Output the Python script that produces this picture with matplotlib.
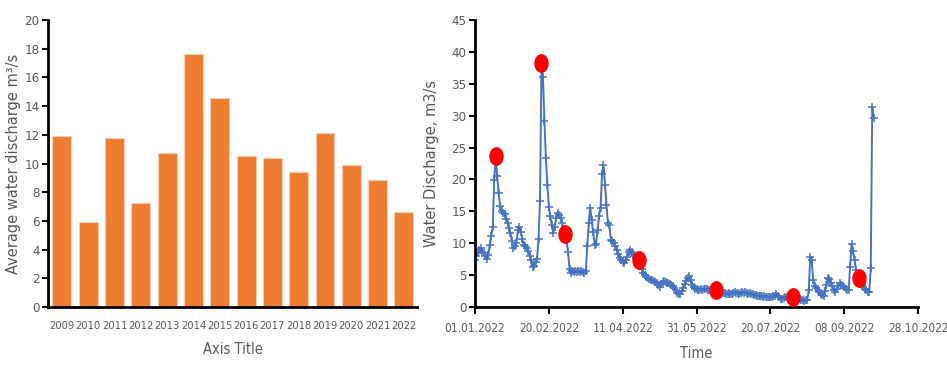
import datetime as dt

import numpy as np
import matplotlib
matplotlib.use("Agg")
import matplotlib.pyplot as plt
from matplotlib import font_manager
from matplotlib.path import Path
from matplotlib.transforms import Affine2D

# ---------------------------------------------------------------------------
# Data
# ---------------------------------------------------------------------------

years = ["2009", "2010", "2011", "2012", "2013", "2014", "2015",
         "2016", "2017", "2018", "2019", "2020", "2021", "2022"]
avg_discharge = [11.9, 5.95, 11.75, 7.25, 10.7, 17.6, 14.55,
                 10.55, 10.35, 9.4, 12.1, 9.9, 8.85, 6.6]

start_date = dt.date(2022, 1, 1)
# daily discharge from 01.01.2022 onward (m3/s)
daily_flow = [
    7.4, 8.0, 8.4, 8.9, 9.2, 8.7, 8.5, 8.0, 7.6, 8.2,
    9.8, 11.1, 12.6, 19.9, 23.6, 20.5, 17.8, 15.8, 15.0, 14.7,
    14.6, 13.8, 13.1, 12.4, 11.6, 10.3, 9.3, 9.6, 10.0, 12.1,
    12.6, 11.8, 10.6, 9.8, 9.5, 9.2, 8.8, 8.0, 7.3, 6.2,
    6.5, 7.0, 7.5, 10.7, 16.6, 37.5, 36.0, 29.2, 23.3, 19.2,
    15.7, 14.2, 12.8, 11.6, 12.5, 14.0, 14.8, 14.5, 13.9, 13.1,
    12.3, 11.5, 10.4, 8.7, 6.0, 5.3, 5.6, 5.5, 5.6, 5.5,
    5.6, 5.5, 5.6, 5.5, 5.3, 5.6, 9.5, 13.2, 15.6, 13.6,
    11.8, 9.7, 9.9, 12.1, 14.3, 15.6, 20.8, 22.3, 19.2, 16.0,
    13.1, 12.8, 10.5, 10.3, 10.0, 9.6, 8.9, 8.3, 7.7, 7.3,
    7.0, 6.9, 7.3, 7.9, 8.6, 8.9, 8.7, 8.3, 8.0, 7.7,
    7.4, 7.2, 6.5, 5.9, 5.4, 5.0, 4.7, 4.5, 4.4, 4.3,
    4.2, 4.1, 3.9, 3.8, 3.5, 3.2, 3.6, 3.9, 4.0, 3.9,
    3.8, 3.7, 3.6, 3.5, 3.3, 3.0, 2.6, 2.2, 2.0, 2.1,
    2.5, 3.0, 3.6, 4.1, 4.5, 4.9, 4.2, 3.5, 3.1, 2.9,
    2.8, 2.7, 2.7, 2.8, 2.7, 2.8, 2.9, 2.8, 2.7, 2.6,
    2.7, 2.6, 2.6, 2.5, 2.5, 2.4, 2.3, 2.3, 2.2, 2.2,
    2.1, 2.1, 2.2, 2.1, 2.0, 2.2, 2.3, 2.2, 2.2, 2.1,
    2.2, 2.3, 2.2, 2.3, 2.2, 2.1, 2.2, 2.1, 2.0, 1.9,
    1.9, 1.8, 1.8, 1.7, 1.7, 1.6, 1.7, 1.6, 1.6, 1.5,
    1.5, 1.6, 1.7, 1.8, 2.1, 1.8, 1.5, 1.3, 1.2, 1.4,
    1.6, 1.5, 1.3, 1.2, 1.2, 1.3, 1.2, 1.1, 1.2, 1.1,
    1.2, 1.1, 1.1, 1.0, 1.1, 1.1, 2.7, 7.9, 7.3, 4.3,
    3.3, 3.0, 2.7, 2.4, 2.1, 1.9, 1.7, 2.5, 3.5, 4.6,
    4.4, 3.8, 3.3, 2.7, 2.3, 2.8, 3.3, 3.7, 3.5, 3.3,
    3.1, 2.8, 2.6, 2.6, 6.2, 9.9, 8.8, 7.3, 5.8, 5.0,
    4.5, 3.8, 3.5, 3.2, 2.9, 2.6, 2.3, 2.4, 6.1, 31.4,
    29.6,
]

# highlighted sampling days (day offset from 01.01.2022) and values
sample_days = [14, 45, 61, 111, 163, 215, 260]
sample_values = [23.7, 38.2, 11.5, 7.3, 2.6, 1.6, 4.6]

date_ticks = ["01.01.2022", "20.02.2022", "11.04.2022", "31.05.2022",
              "20.07.2022", "08.09.2022", "28.10.2022"]

# ---------------------------------------------------------------------------
# Style
# ---------------------------------------------------------------------------

# the original uses a narrow font for ticks; pick the narrowest available
_fonts = font_manager.fontManager.ttflist
_names = {f.name for f in _fonts}
if "Liberation Sans Narrow" in _names:
    NARROW = dict(family=["Liberation Sans Narrow", "DejaVu Sans"])
    TICK_SIZE = 10
elif any(f.name == "DejaVu Sans" and "condensed" in str(f.stretch)
         for f in _fonts):
    NARROW = dict(family=["DejaVu Sans"], stretch="condensed")
    TICK_SIZE = 8.5
else:
    NARROW = dict(family=["Liberation Sans", "DejaVu Sans"])
    TICK_SIZE = 8.5

WIDE = ["DejaVu Sans"]
GREY = "#595959"
ORANGE = "#ED7D31"
BLUE = "#4472C4"


def style_axes(ax):
    for side in ("top", "right"):
        ax.spines[side].set_visible(False)
    for side in ("left", "bottom"):
        ax.spines[side].set_linewidth(2.0)
        ax.spines[side].set_color("black")
    ax.tick_params(axis="y", direction="out", length=4, width=1.5,
                   colors="black", labelcolor=GREY, labelsize=TICK_SIZE + 1,
                   pad=2)
    for lab in ax.get_yticklabels():
        lab.update(NARROW)


fig = plt.figure(figsize=(9.47, 3.87), dpi=100)

# ---- left: annual average bars ----
ax1 = fig.add_axes([0.0507, 0.2067, 0.3897, 0.7416])
x = np.arange(len(years))
ax1.bar(x, avg_discharge, width=0.72, color=ORANGE,
        edgecolor="#F8CBAD", linewidth=0.8, zorder=2)
ax1.set_xlim(-0.53, 13.5)
ax1.set_ylim(0, 20)
ax1.set_yticks(np.arange(0, 21, 2))
style_axes(ax1)
ax1.set_xticks(x)
ax1.set_xticklabels(years, fontsize=TICK_SIZE - 0.5, color=GREY, **NARROW)
ax1.tick_params(axis="x", length=0, pad=10)
ax1.set_xlabel("Axis Title", fontsize=TICK_SIZE + 2, color=GREY,
               labelpad=8, **NARROW)
ax1.set_ylabel("Average water discharge m\u00b3/s", family=WIDE,
               fontsize=10.5, color=GREY)
ax1.yaxis.set_label_coords(-0.072, 0.5)

# ---- right: daily discharge ----
ax2 = fig.add_axes([0.5016, 0.2067, 0.4678, 0.7416])
dates = [start_date + dt.timedelta(days=i) for i in range(len(daily_flow))]
ax2.plot(dates, daily_flow, color=BLUE, lw=1.4, marker="+",
         markersize=5.5, markeredgewidth=1.1, zorder=2)

ellipse = Path.unit_circle().transformed(Affine2D().scale(0.75, 1.0))
sample_dates = [start_date + dt.timedelta(days=d) for d in sample_days]
ax2.plot(sample_dates, sample_values, linestyle="none", marker=ellipse,
         markersize=12.5, color="#FF0000", zorder=3)

tick_dates = [dt.datetime.strptime(s, "%d.%m.%Y").date() for s in date_ticks]
ax2.set_xlim(tick_dates[0], tick_dates[-1])
ax2.set_ylim(0, 45)
ax2.set_yticks(np.arange(0, 46, 5))
style_axes(ax2)
ax2.set_xticks(tick_dates)
ax2.set_xticklabels(date_ticks, fontsize=TICK_SIZE, color=GREY, **NARROW)
ax2.tick_params(axis="x", direction="out", length=5, width=1.5, pad=6)
ax2.set_xlabel("Time", fontsize=TICK_SIZE + 2, color=GREY, labelpad=8,
               **NARROW)
ax2.set_ylabel("Water Discharge, m3/s", family=WIDE, fontsize=10.5,
               color=GREY)
ax2.yaxis.set_label_coords(-0.081, 0.5)

fig.savefig("out.png", dpi=100)
